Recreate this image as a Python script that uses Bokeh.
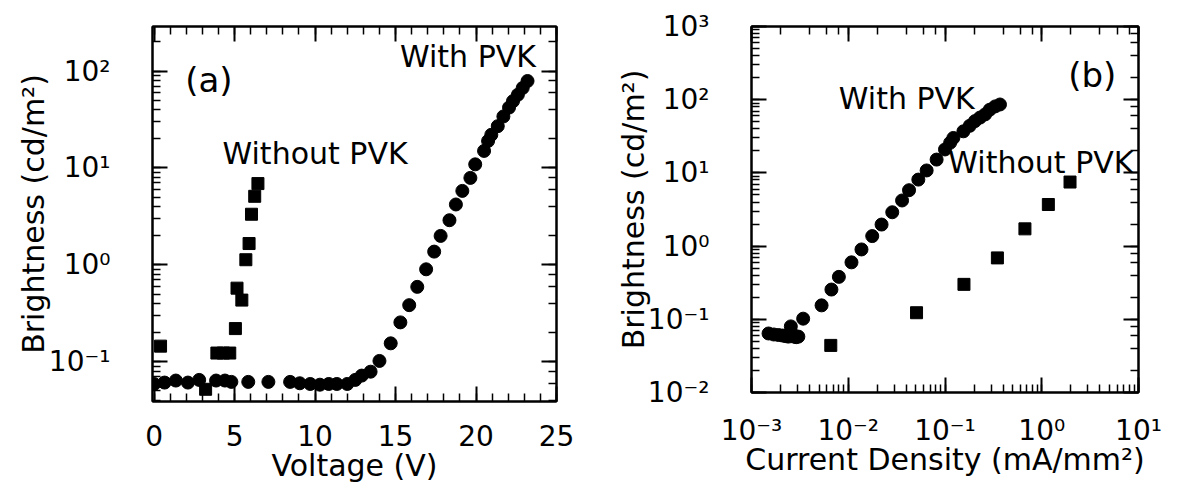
from bokeh.plotting import figure
from bokeh.layouts import row
from bokeh.models import (LinearAxis, LogAxis, SingleIntervalTicker, LogTicker,
                          CustomJSTickFormatter, Label, Range1d)
from bokeh.embed import file_html
from bokeh.resources import INLINE

# ---------------- data ----------------
# Panel (a): brightness vs voltage
with_pvk_v = [0, 0.65, 1.35, 2.1, 2.8, 3.85, 4.4, 4.8, 5.85, 7.1, 8.45, 9.05, 9.7, 10.3,
              10.85, 11.35, 12.0, 12.5, 12.9, 13.45, 14.0, 14.7, 15.3, 15.85, 16.35, 16.9,
              17.4, 17.8, 18.35, 18.75, 19.15, 19.65, 19.95, 20.5, 20.75, 20.95, 21.35,
              21.7, 22.05, 22.3, 22.6, 22.9, 23.2]
with_pvk_b = [0.059, 0.061, 0.064, 0.061, 0.065, 0.064, 0.064, 0.062, 0.062, 0.062, 0.062,
              0.060, 0.059, 0.058, 0.059, 0.059, 0.059, 0.065, 0.072, 0.079, 0.102, 0.155,
              0.255, 0.384, 0.593, 0.90, 1.37, 1.99, 2.89, 4.2, 5.8, 7.9, 10.9, 15, 19, 22,
              27, 34, 42, 49, 57, 67, 79]
without_pvk_v = [0.4, 3.2, 3.9, 4.3, 4.7, 5.05, 5.15, 5.45, 5.7, 5.9, 6.05, 6.25, 6.45]
without_pvk_b = [0.145, 0.052, 0.123, 0.123, 0.123, 0.22, 0.575, 0.433, 1.13, 1.66, 3.33,
                 5.1, 6.9]

# Panel (b): brightness vs current density
with_pvk_j = [1.5e-3, 1.7e-3, 1.9e-3, 2.1e-3, 2.25e-3, 2.4e-3, 2.55e-3, 2.6e-3, 2.75e-3,
              2.9e-3, 3.05e-3, 3.42e-3, 5.3e-3, 6.7e-3, 8.0e-3, 0.0108, 0.0137, 0.0177,
              0.0221, 0.0285, 0.036, 0.0425, 0.053, 0.0646, 0.0819, 0.1, 0.113, 0.122,
              0.155, 0.18, 0.204, 0.23, 0.26, 0.29, 0.33, 0.37]
with_pvk_bb = [0.064, 0.062, 0.061, 0.060, 0.059, 0.058, 0.080, 0.065, 0.058, 0.057, 0.058,
               0.102, 0.155, 0.255, 0.38, 0.60, 0.90, 1.37, 1.97, 2.9, 4.2, 5.8, 8.1, 10.8,
               15.2, 20.9, 25.8, 30, 37, 44, 51, 57, 63, 73, 81, 86]
without_pvk_j = [6.6e-3, 0.0508, 0.157, 0.348, 0.67, 1.17, 1.96]
without_pvk_bb = [0.044, 0.123, 0.30, 0.69, 1.72, 3.7, 7.5]

FONT = "DejaVu Sans"
FS = "30px"
TICK_FS = "28px"

SUP_CODE = """
const sup = {"0":"\u2070","1":"\u00b9","2":"\u00b2","3":"\u00b3","4":"\u2074",
             "5":"\u2075","6":"\u2076","7":"\u2077","8":"\u2078","9":"\u2079","-":"\u207b"};
const e = Math.round(Math.log10(tick));
return "10" + String(e).split("").map(c => sup[c]).join("");
"""


def style_axis(ax, labels=True):
    ax.axis_line_color = "black"
    ax.axis_line_width = 2
    ax.major_tick_in = 15
    ax.major_tick_out = 0
    ax.minor_tick_in = 8
    ax.minor_tick_out = 0
    ax.major_tick_line_color = "black"
    ax.major_tick_line_width = 2
    ax.minor_tick_line_color = "black"
    ax.minor_tick_line_width = 1.5
    ax.major_label_text_font = FONT
    ax.major_label_text_color = "black"
    ax.axis_label_text_font = FONT
    ax.axis_label_text_font_size = FS
    ax.axis_label_text_font_style = "normal"
    ax.axis_label_text_color = "black"
    if labels:
        ax.major_label_text_font_size = TICK_FS
    else:
        ax.formatter = CustomJSTickFormatter(code="return '';")
        ax.major_label_text_font_size = "8px"
        ax.major_label_standoff = 0


def add_label(p, x, y, text, size=FS):
    p.add_layout(Label(x=x, y=y, text=text, text_font=FONT, text_font_size=size,
                       text_align="center", text_baseline="middle", text_color="black"))


# ---------------- panel (a) ----------------
pa = figure(frame_width=404, frame_height=375, y_axis_type="log",
            x_range=Range1d(-0.1, 25.0), y_range=Range1d(10 ** -1.41, 10 ** 2.46),
            output_backend="svg", toolbar_location=None,
            min_border_left=152, min_border_right=41, min_border_top=24,
            min_border_bottom=78)
pa.grid.visible = False
pa.outline_line_color = "black"
pa.outline_line_width = 2

pa.xaxis.ticker = SingleIntervalTicker(interval=5, num_minor_ticks=5)
pa.xaxis.axis_label = "Voltage (V)"
pa.yaxis.axis_label = "Brightness (cd/m\u00b2)"
pa.yaxis.formatter = CustomJSTickFormatter(code=SUP_CODE)
for ax in pa.xaxis + pa.yaxis:
    style_axis(ax)
pa.xaxis.major_label_standoff = 23
pa.xaxis.axis_label_standoff = -1
pa.yaxis.major_label_standoff = 42
pa.yaxis.axis_label_standoff = -5

top_a = LinearAxis(ticker=SingleIntervalTicker(interval=5, num_minor_ticks=5))
style_axis(top_a, labels=False)
pa.add_layout(top_a, "above")
right_a = LogAxis(ticker=LogTicker())
style_axis(right_a, labels=False)
pa.add_layout(right_a, "right")

pa.scatter(with_pvk_v, with_pvk_b, marker="circle", size=13, color="black")
pa.scatter(without_pvk_v, without_pvk_b, marker="square", size=12, color="black")

add_label(pa, 3.4, 80, "(a)", "34px")
add_label(pa, 19.5, 140, "With PVK")
add_label(pa, 10.0, 14.0, "Without PVK")

# ---------------- panel (b) ----------------
pb = figure(frame_width=387, frame_height=366, x_axis_type="log", y_axis_type="log",
            x_range=Range1d(1e-3, 1e1), y_range=Range1d(1e-2, 1e3),
            output_backend="svg", toolbar_location=None,
            min_border_left=154, min_border_right=30, min_border_top=26,
            min_border_bottom=85)
pb.grid.visible = False
pb.outline_line_color = "black"
pb.outline_line_width = 2

pb.xaxis.axis_label = "Current Density (mA/mm\u00b2)"
pb.yaxis.axis_label = "Brightness (cd/m\u00b2)"
pb.xaxis.formatter = CustomJSTickFormatter(code=SUP_CODE)
pb.yaxis.formatter = CustomJSTickFormatter(code=SUP_CODE)
for ax in pb.xaxis + pb.yaxis:
    style_axis(ax)
pb.xaxis.major_label_standoff = 21
pb.xaxis.axis_label_standoff = -8
pb.yaxis.major_label_standoff = 42
pb.yaxis.axis_label_standoff = -6

top_b = LogAxis(ticker=LogTicker())
style_axis(top_b, labels=False)
pb.add_layout(top_b, "above")
right_b = LogAxis(ticker=LogTicker())
style_axis(right_b, labels=False)
pb.add_layout(right_b, "right")

pb.scatter(with_pvk_j, with_pvk_bb, marker="circle", size=13, color="black")
pb.scatter(without_pvk_j, without_pvk_bb, marker="square", size=12, color="black")

add_label(pb, 3.33, 215, "(b)", "34px")
add_label(pb, 0.0403, 105, "With PVK")
add_label(pb, 0.98, 13.9, "Without PVK")

layout = row(pa, pb)
open("out.html", "w").write(file_html(layout, INLINE))
